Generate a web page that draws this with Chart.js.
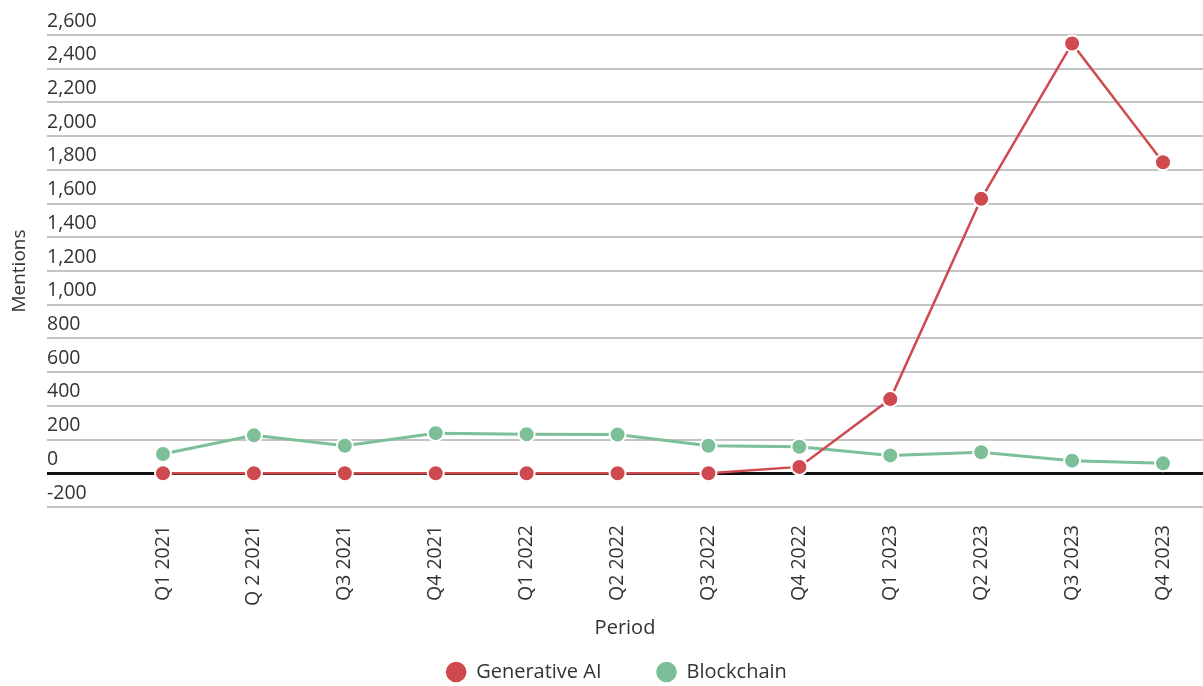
<!DOCTYPE html>
<html>
<head>
<meta charset="utf-8">
<script src="https://cdn.jsdelivr.net/npm/chart.js@4/dist/chart.umd.min.js"></script>
<style>
  html, body { margin: 0; padding: 0; background: #ffffff; overflow: hidden; }
  #wrap { width: 1203px; height: 686px; position: relative; }
  canvas { display: block; }
</style>
</head>
<body>
<div id="wrap"><canvas id="c"></canvas></div>
<script>
const categories = ["Q1 2021","Q 2 2021","Q3 2021","Q4 2021","Q1 2022","Q2 2022","Q3 2022","Q4 2022","Q1 2023","Q2 2023","Q3 2023","Q4 2023"];
const generativeAI = [0, 0, 0, 0, 0, 0, 0, 38, 440, 1628, 2550, 1845];
const blockchain = [114, 225, 163, 238, 232, 230, 163, 157, 106, 125, 75, 59];
const yTicks = [-200, 0, 200, 400, 600, 800, 1000, 1200, 1400, 1600, 1800, 2000, 2200, 2400, 2600];

const RED = '#cf4a4e';
const GREEN = '#7dbf98';
const TEXT = '#333333';
const FONT = '"Open Sans", sans-serif';

const toPoints = arr => arr.map((v, i) => ({ x: i, y: v }));

new Chart(document.getElementById('c'), {
  type: 'line',
  data: {
    datasets: [
      {
        label: 'Generative AI',
        data: toPoints(generativeAI),
        borderColor: RED,
        backgroundColor: RED,
        borderWidth: 2.5,
        pointRadius: 8,
        pointHoverRadius: 8,
        pointBackgroundColor: RED,
        pointBorderColor: '#ffffff',
        pointBorderWidth: 2,
        tension: 0
      },
      {
        label: 'Blockchain',
        data: toPoints(blockchain),
        borderColor: GREEN,
        backgroundColor: GREEN,
        borderWidth: 3,
        pointRadius: 8,
        pointHoverRadius: 8,
        pointBackgroundColor: GREEN,
        pointBorderColor: '#ffffff',
        pointBorderWidth: 2,
        tension: 0
      }
    ]
  },
  options: {
    responsive: true,
    maintainAspectRatio: false,
    animation: false,
    layout: { autoPadding: false, padding: { top: 35, left: 30, right: 0, bottom: -6 } },
    plugins: {
      tooltip: { enabled: false },
      legend: {
        display: true,
        position: 'bottom',
        labels: {
          usePointStyle: true,
          pointStyle: 'circle',
          boxWidth: 20,
          boxHeight: 16,
          padding: 55,
          color: TEXT,
          font: { family: FONT, size: 20 }
        }
      }
    },
    scales: {
      x: {
        type: 'linear',
        min: -1.276,
        max: 11.44,
        grid: { display: false },
        border: { display: false },
        afterBuildTicks: scale => { scale.ticks = categories.map((c, i) => ({ value: i })); },
        afterFit: scale => { scale.height = 100; scale.paddingLeft = 0; scale.paddingRight = 0; },
        ticks: {
          autoSkip: false,
          minRotation: 90,
          maxRotation: 90,
          padding: 10,
          color: TEXT,
          font: { family: FONT, size: 19.5 },
          callback: value => categories[value]
        },
        title: {
          display: true,
          text: 'Period',
          color: TEXT,
          font: { family: FONT, size: 20 },
          padding: { top: 0, bottom: -33 }
        }
      },
      y: {
        type: 'linear',
        min: -200,
        max: 2600,
        afterBuildTicks: scale => { scale.ticks = yTicks.map(v => ({ value: v })); },
        afterFit: scale => { scale.width = 17; },
        border: { display: false },
        grid: {
          drawTicks: false,
          color: ctx => (ctx.tick && ctx.tick.value === 0) ? '#111111' : '#c4c4c4',
          lineWidth: ctx => (ctx.tick && ctx.tick.value === 0) ? 3 : 2
        },
        ticks: {
          mirror: true,
          padding: 0,
          labelOffset: -14,
          color: TEXT,
          font: { family: FONT, size: 19.5 },
          callback: value => value.toLocaleString('en-US')
        },
        title: {
          display: true,
          text: 'Mentions',
          color: TEXT,
          font: { family: FONT, size: 19 },
          padding: { top: -22, bottom: 0 }
        }
      }
    }
  }
});
</script>
</body>
</html>
